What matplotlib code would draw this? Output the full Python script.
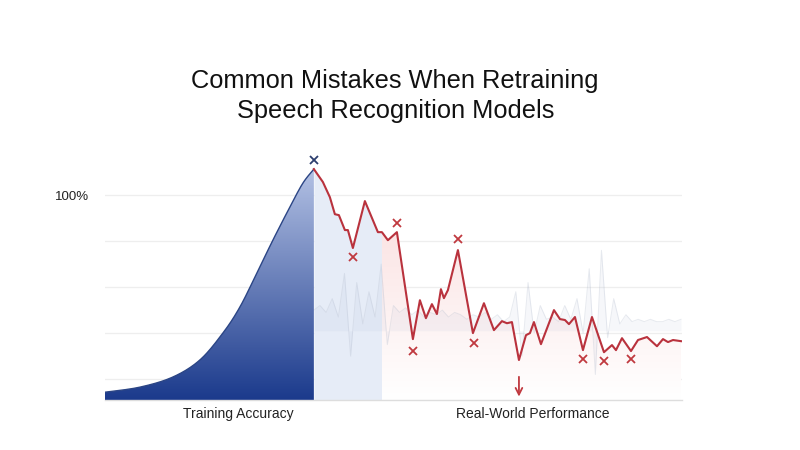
import matplotlib.pyplot as plt
from matplotlib.patches import PathPatch
import matplotlib.colors as mcolors
import numpy as np

# training accuracy curve (step, accuracy %)
train_x = [0, 35, 68, 95, 118, 135, 152, 168, 185, 198, 209]
train_y = [14.3, 16.5, 20.9, 28.3, 40.0, 51.3, 66.1, 80.4, 94.8, 105.2, 111.3]

# real-world performance (step, accuracy %)
real_x = [209, 218, 225, 230, 234, 240, 243, 248, 260, 273, 277, 283, 292, 308,
          315, 321, 327, 332, 336, 339, 343, 353, 368, 379, 389, 397, 402, 407,
          414, 421, 425, 429, 436, 449, 455, 460, 464, 470, 478, 487, 499, 507,
          511, 517, 526, 533, 542, 552, 558, 563, 568, 576]
real_y = [111.3, 105.7, 99.1, 91.7, 91.3, 84.8, 84.8, 77.0, 97.4, 83.9, 83.9, 80.4,
          83.9, 37.4, 54.3, 46.5, 52.6, 48.3, 59.1, 55.2, 58.7, 76.1, 40.0, 53.0,
          41.3, 45.2, 44.3, 44.8, 28.3, 39.1, 40.0, 44.8, 35.2, 50.0, 46.1, 45.7,
          43.9, 47.0, 32.6, 47.0, 31.7, 34.8, 32.6, 37.8, 32.2, 37.0, 38.3, 34.3,
          37.4, 36.1, 37.0, 36.5]

# faint audio waveform in the background
wave_y = [50, 52, 49, 55, 47, 66, 30, 62, 44, 58, 47, 70, 35, 52, 49, 51, 48, 50,
          47, 49, 48, 50, 47, 49, 48, 46, 48, 47, 49, 46, 48, 45, 47, 58, 30, 62,
          40, 52, 46, 47, 45, 52, 46, 55, 40, 68, 22, 76, 38, 55, 44, 48, 45, 46,
          45, 46, 45, 45, 46, 45, 46]

# mistakes flagged on the curves
peak_mark = (209, 115.2)
mistake_x = [248, 292, 308, 353, 369, 478, 499, 526]
mistake_y = [73.0, 87.8, 32.2, 80.9, 35.7, 28.7, 27.8, 28.7]
drop_x = 414

split_x = 277
labels = ["Training Accuracy", "Real-World Performance"]
label_x = [133, 428]
title = "Common Mistakes When Retraining\nSpeech Recognition Models"

YMIN, YMAX = 10.9, 119.6


def smooth(xs, ys, n=24):
    pts = np.column_stack([xs, ys]).astype(float)
    p = np.vstack([pts[0], pts, pts[-1]])
    out = []
    t = np.linspace(0, 1, n, endpoint=False)[:, None]
    for i in range(1, len(p) - 2):
        p0, p1, p2, p3 = p[i - 1], p[i], p[i + 1], p[i + 2]
        out.append(0.5 * (2 * p1 + (-p0 + p2) * t + (2 * p0 - 5 * p1 + 4 * p2 - p3) * t ** 2
                          + (-p0 + 3 * p1 - 3 * p2 + p3) * t ** 3))
    out.append(pts[-1:])
    s = np.vstack(out)
    return s[:, 0], s[:, 1]


def gradient_fill(ax, x, y, c_top, c_bot, y_top, zorder):
    poly = ax.fill_between(x, y, YMIN, color="none", lw=0)
    path = poly.get_paths()[0]
    cmap = mcolors.LinearSegmentedColormap.from_list("g", [c_bot, c_top])
    grad = np.linspace(0, 1, 256).reshape(-1, 1)
    img = ax.imshow(grad, cmap=cmap, aspect="auto", origin="lower",
                    extent=[min(x), max(x), YMIN, y_top], zorder=zorder,
                    interpolation="bicubic")
    img.set_clip_path(PathPatch(path, transform=ax.transData, fc="none", ec="none"))


plt.rcParams['font.family'] = ['Liberation Sans', 'DejaVu Sans']
fig = plt.figure(figsize=(8, 4.5), dpi=100)
ax = fig.add_axes([0.131, 0.111, 0.7215, 0.5556])

for g in [20, 40, 60, 80, 100]:
    ax.axhline(g, color="#eeeeee", lw=0.9, zorder=0)

# training area
tx, ty = smooth(train_x, train_y)
gradient_fill(ax, tx, ty, "#b3c1e4", "#1b3a8c", max(train_y), 2)
ax.plot(tx, ty, color="#2b4585", lw=1.0, zorder=3)

# light blue band right after training
rx = np.array(real_x)
ry = np.array(real_y)
m = rx <= split_x
ax.fill_between(rx[m], ry[m], YMIN, color="#e6ecf7", lw=0, zorder=1)

# faint pink under the real-world curve
m2 = rx >= split_x
gradient_fill(ax, rx[m2], ry[m2], "#fbe3e3", "#ffffff", 88, 1)

# waveform
wave_x = np.linspace(209, 576, len(wave_y))
ax.fill_between(wave_x, wave_y, 41, color="#a9b6d3", alpha=0.10, lw=0, zorder=1.5)
ax.plot(wave_x, wave_y, color="#b3bccd", lw=0.7, alpha=0.3, zorder=1.6)

# real-world line
ax.plot(rx, ry, color="#b9323d", lw=1.5, zorder=4)

ax.plot(*peak_mark, marker="x", color="#2c3e6e", ms=6, mew=1.3, ls="none", zorder=5)
ax.plot(mistake_x, mistake_y, marker="x", color="#c0393f", ms=6, mew=1.3, ls="none", zorder=5)
ax.annotate("", xy=(drop_x, 12.4), xytext=(drop_x, 21),
            arrowprops=dict(arrowstyle="->", color="#c0393f", lw=1.3,
                            shrinkA=0, shrinkB=0, mutation_scale=12), zorder=5)

ax.set_xlim(0, 577)
ax.set_ylim(YMIN, YMAX)
ax.set_yticks([100])
ax.set_yticklabels(["100%"], fontsize=9.5, color="#222222")
ax.tick_params(axis="y", length=0, pad=11)
ax.set_xticks(label_x)
ax.set_xticklabels(labels, fontsize=10, color="#222222")
ax.tick_params(axis="x", length=0, pad=5)
for s in ["top", "right", "left"]:
    ax.spines[s].set_visible(False)
ax.spines["bottom"].set_color("#dddddd")
ax.spines["bottom"].set_linewidth(1.0)

fig.text(0.494, 0.786, title, ha="center", va="center", fontsize=18.3,
         color="#111111", linespacing=1.3)

fig.savefig("out.png", dpi=100, facecolor="white")
